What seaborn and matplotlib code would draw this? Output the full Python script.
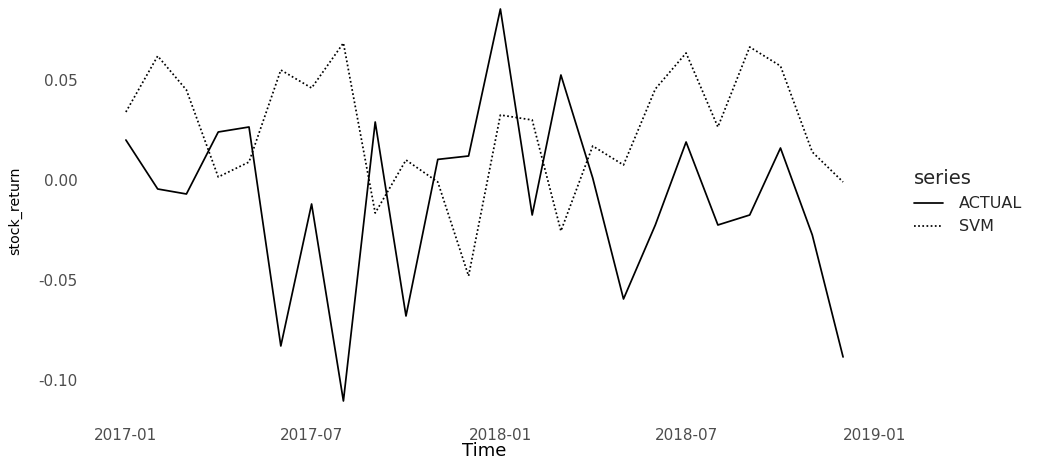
import numpy as np
import pandas as pd
import matplotlib
matplotlib.use("Agg")
import matplotlib.pyplot as plt
import matplotlib.dates as mdates
import seaborn as sns

# Monthly observations, 2017-01 .. 2018-12
months = pd.date_range("2017-01-01", "2018-12-01", freq="MS")

actual = [0.020, -0.0045, -0.007, 0.024, 0.0265, -0.083, -0.012, -0.1105,
          0.029, -0.068, 0.0103, 0.012, 0.0855, -0.0175, 0.0525, 0.001,
          -0.0595, -0.0225, 0.019, -0.0225, -0.0175, 0.016, -0.0275, -0.0885]

svm = [0.034, 0.062, 0.045, 0.0015, 0.009, 0.055, 0.046, 0.0685,
       -0.0165, 0.010, -0.001, -0.048, 0.0325, 0.030, -0.0255, 0.017,
       0.0075, 0.0455, 0.0635, 0.0265, 0.0665, 0.057, 0.014, -0.001]

series_names = ["ACTUAL", "SVM"]
x_ticks = ["2017-01-01", "2017-07-01", "2018-01-01", "2018-07-01", "2019-01-01"]
y_ticks = [-0.10, -0.05, 0.00, 0.05]

df = pd.DataFrame({
    "Time": np.concatenate([months, months]),
    "stock_return": actual + svm,
    "series": [series_names[0]] * len(actual) + [series_names[1]] * len(svm),
})

sns.set_theme(style="white")
plt.rcParams["font.family"] = ["DejaVu Sans"]

fig = plt.figure(figsize=(10.38, 4.59), dpi=100)
ax = fig.add_axes([0.0857, 0.0837, 0.7611, 0.9163])

sns.lineplot(data=df, x="Time", y="stock_return", style="series",
             color="black", linewidth=1.25,
             dashes={"ACTUAL": "", "SVM": (1, 1.4)}, ax=ax)

for side in ["top", "right", "bottom", "left"]:
    ax.spines[side].set_visible(False)
ax.grid(False)

ax.set_xlim(pd.Timestamp("2016-11-26"), pd.Timestamp("2019-01-05"))
ax.set_ylim(-0.1203, 0.09)
ax.set_xticks(pd.to_datetime(x_ticks))
ax.xaxis.set_major_formatter(mdates.DateFormatter("%Y-%m"))
ax.set_yticks(y_ticks)
ax.set_yticklabels([f"{v:.2f}" for v in y_ticks])
ax.tick_params(axis="both", length=0, labelsize=11, labelcolor="#4D4D4D")
ax.tick_params(axis="x", pad=5)
ax.tick_params(axis="y", pad=8)

ax.set_xlabel("Time", fontsize=13, color="black")
ax.xaxis.set_label_coords(0.5, -0.052)
ax.set_ylabel("stock_return", fontsize=10.2, color="black")
ax.yaxis.set_label_coords(-0.085, 0.5)

handles, labels = ax.get_legend_handles_labels()
pairs = [(h, l) for h, l in zip(handles, labels) if l in series_names]
ax.legend([p[0] for p in pairs], [p[1] for p in pairs], title="series",
          loc="center left", bbox_to_anchor=(0.873, 0.56),
          bbox_transform=fig.transFigure, frameon=False, borderpad=0,
          fontsize=11.5, title_fontsize=14, handlelength=1.8,
          handletextpad=1.0, labelspacing=0.5, alignment="left")

fig.savefig("out.png", dpi=100, facecolor="white")
